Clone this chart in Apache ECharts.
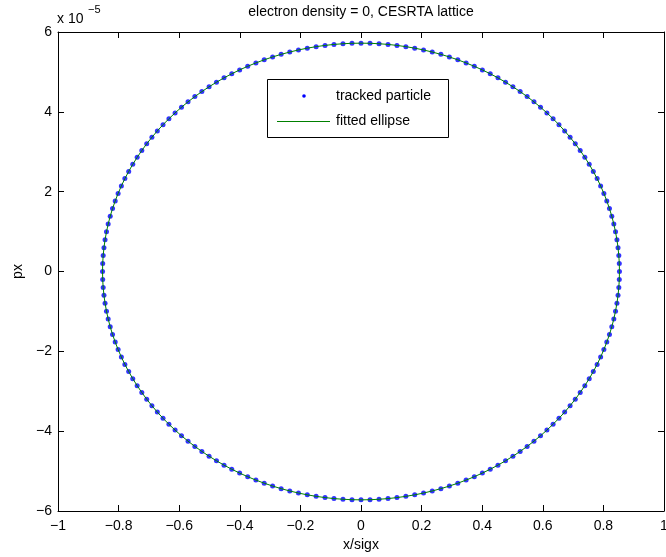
<!DOCTYPE html>
<html>
<head>
<meta charset="utf-8">
<script src="https://cdn.jsdelivr.net/npm/echarts@6/dist/echarts.min.js"></script>
<style>html,body{margin:0;padding:0;background:#fff}#c{width:666px;height:557px}</style>
</head>
<body>
<div id="c"></div>
<script>
// x/sigx values of the tracked particle
var particleX = [
 0.853,0.8525,0.8509,0.8483,0.8447,0.8400,0.8344,0.8277,0.8200,0.8112,0.8016,0.7909,0.7793,0.7667,0.7532,0.7387,0.7234,0.7072,0.6901,0.6722,0.6534,0.6339,0.6136,0.5925,0.5708,0.5483,0.5252,0.5014,0.4770,0.4520,0.4265,0.4005,0.3739,0.3469,0.3195,0.2917,0.2636,0.2351,0.2064,0.1773,0.1481,0.1187,0.0892,0.0595,0.0298,
 0,-0.0298,-0.0595,-0.0892,-0.1187,-0.1481,-0.1773,-0.2064,-0.2351,-0.2636,-0.2917,-0.3195,-0.3469,-0.3739,-0.4005,-0.4265,-0.4520,-0.4770,-0.5014,-0.5252,-0.5483,-0.5708,-0.5925,-0.6136,-0.6339,-0.6534,-0.6722,-0.6901,-0.7072,-0.7234,-0.7387,-0.7532,-0.7667,-0.7793,-0.7909,-0.8016,-0.8112,-0.8200,-0.8277,-0.8344,-0.8400,-0.8447,-0.8483,-0.8509,-0.8525,
 -0.853,-0.8525,-0.8509,-0.8483,-0.8447,-0.8400,-0.8344,-0.8277,-0.8200,-0.8112,-0.8016,-0.7909,-0.7793,-0.7667,-0.7532,-0.7387,-0.7234,-0.7072,-0.6901,-0.6722,-0.6534,-0.6339,-0.6136,-0.5925,-0.5708,-0.5483,-0.5252,-0.5014,-0.4770,-0.4520,-0.4265,-0.4005,-0.3739,-0.3469,-0.3195,-0.2917,-0.2636,-0.2351,-0.2064,-0.1773,-0.1481,-0.1187,-0.0892,-0.0595,-0.0298,
 0,0.0298,0.0595,0.0892,0.1187,0.1481,0.1773,0.2064,0.2351,0.2636,0.2917,0.3195,0.3469,0.3739,0.4005,0.4265,0.4520,0.4770,0.5014,0.5252,0.5483,0.5708,0.5925,0.6136,0.6339,0.6534,0.6722,0.6901,0.7072,0.7234,0.7387,0.7532,0.7667,0.7793,0.7909,0.8016,0.8112,0.8200,0.8277,0.8344,0.8400,0.8447,0.8483,0.8509,0.8525
];
// px values of the tracked particle, in units of 1e-5
var particlePx = [
 0,0.200,0.399,0.598,0.796,0.993,1.189,1.384,1.577,1.768,1.956,2.143,2.327,2.507,2.685,2.860,3.031,3.199,3.362,3.522,3.677,3.827,3.973,4.115,4.251,4.382,4.507,4.628,4.742,4.851,4.954,5.050,5.141,5.225,5.303,5.375,5.440,5.498,5.550,5.595,5.633,5.664,5.689,5.706,5.717,
 5.720,5.717,5.706,5.689,5.664,5.633,5.595,5.550,5.498,5.440,5.375,5.303,5.225,5.141,5.050,4.954,4.851,4.742,4.628,4.507,4.382,4.251,4.115,3.973,3.827,3.677,3.522,3.362,3.199,3.031,2.860,2.685,2.507,2.327,2.143,1.956,1.768,1.577,1.384,1.189,0.993,0.796,0.598,0.399,0.200,
 0,-0.200,-0.399,-0.598,-0.796,-0.993,-1.189,-1.384,-1.577,-1.768,-1.956,-2.143,-2.327,-2.507,-2.685,-2.860,-3.031,-3.199,-3.362,-3.522,-3.677,-3.827,-3.973,-4.115,-4.251,-4.382,-4.507,-4.628,-4.742,-4.851,-4.954,-5.050,-5.141,-5.225,-5.303,-5.375,-5.440,-5.498,-5.550,-5.595,-5.633,-5.664,-5.689,-5.706,-5.717,
 -5.720,-5.717,-5.706,-5.689,-5.664,-5.633,-5.595,-5.550,-5.498,-5.440,-5.375,-5.303,-5.225,-5.141,-5.050,-4.954,-4.851,-4.742,-4.628,-4.507,-4.382,-4.251,-4.115,-3.973,-3.827,-3.677,-3.522,-3.362,-3.199,-3.031,-2.860,-2.685,-2.507,-2.327,-2.143,-1.956,-1.768,-1.577,-1.384,-1.189,-0.993,-0.796,-0.598,-0.399,-0.200
];
var xTicks = [-1,-0.8,-0.6,-0.4,-0.2,0,0.2,0.4,0.6,0.8,1];
var yTicks = [-6,-4,-2,0,2,4,6];
var titleText = 'electron density = 0, CESRTA lattice';
var legendNames = ['tracked particle','fitted ellipse'];

var FONT = '"Liberation Sans", Arial, Helvetica, sans-serif';
function fmt(v){ return String(Math.round(v*10)/10).replace('-', '\u2212'); }

var scatterData = particleX.map(function(x,i){ return [x, particlePx[i]]; });
var lineData = scatterData.concat([scatterData[0]]);

var chart = echarts.init(document.getElementById('c'), null, {renderer:'canvas'});
var axisCommon = {
  type:'value',
  axisLine:{show:true, onZero:false, lineStyle:{color:'#000', width:1}},
  axisTick:{show:true, inside:true, length:6, lineStyle:{color:'#000', width:1}},
  splitLine:{show:false}
};
chart.setOption({
  animation:false,
  backgroundColor:'#fff',
  grid:{left:58, right:2, top:32, bottom:46, containLabel:false, outerBoundsMode:'none'},
  xAxis:[
    Object.assign({}, axisCommon, {min:xTicks[0], max:xTicks[xTicks.length-1], interval:0.2, position:'bottom',
      axisLabel:{show:true, color:'#000', fontFamily:FONT, fontSize:14, margin:8, formatter:fmt},
      name:'x/sigx', nameLocation:'middle', nameGap:27, nameTextStyle:{color:'#000', fontFamily:FONT, fontSize:14}}),
    Object.assign({}, axisCommon, {min:xTicks[0], max:xTicks[xTicks.length-1], interval:0.2, position:'top',
      axisLabel:{show:false}})
  ],
  yAxis:[
    Object.assign({}, axisCommon, {min:yTicks[0], max:yTicks[yTicks.length-1], interval:2, position:'left',
      axisLabel:{show:true, color:'#000', fontFamily:FONT, fontSize:14, margin:6, formatter:fmt},
      name:'px', nameLocation:'middle', nameGap:32, nameRotate:90, nameTextStyle:{color:'#000', fontFamily:FONT, fontSize:14}}),
    Object.assign({}, axisCommon, {min:yTicks[0], max:yTicks[yTicks.length-1], interval:2, position:'right',
      axisLabel:{show:false}})
  ],
  series:[
    {name:legendNames[0], type:'scatter', xAxisIndex:0, yAxisIndex:0, data:scatterData,
     symbol:'circle', symbolSize:5, itemStyle:{color:'#0000ff'}, z:2},
    {name:legendNames[1], type:'line', xAxisIndex:0, yAxisIndex:0, data:lineData,
     showSymbol:false, symbol:'none', lineStyle:{color:'#008000', width:1}, z:3}
  ],
  graphic:[
    {type:'text', x:361, y:12, style:{text:titleText, fill:'#000', font:'14px '+FONT, align:'center', verticalAlign:'middle'}},
    {type:'text', x:57, y:19, style:{text:'x 10', fill:'#000', font:'14px '+FONT, align:'left', verticalAlign:'middle'}},
    {type:'text', x:88, y:10, style:{text:'\u22125', fill:'#000', font:'11px '+FONT, align:'left', verticalAlign:'middle'}},
    {type:'rect', shape:{x:267.5, y:79.5, width:181, height:58}, style:{fill:'#fff', stroke:'#000', lineWidth:1}, z:10},
    {type:'circle', shape:{cx:304, cy:96, r:1.8}, style:{fill:'#0000ff'}, z:11},
    {type:'line', shape:{x1:277, y1:121.5, x2:330, y2:121.5}, style:{stroke:'#008000', lineWidth:1}, z:11},
    {type:'text', x:336, y:96, style:{text:legendNames[0], fill:'#000', font:'14px '+FONT, align:'left', verticalAlign:'middle'}, z:11},
    {type:'text', x:336, y:121, style:{text:legendNames[1], fill:'#000', font:'14px '+FONT, align:'left', verticalAlign:'middle'}, z:11}
  ]
});
</script>
</body>
</html>
